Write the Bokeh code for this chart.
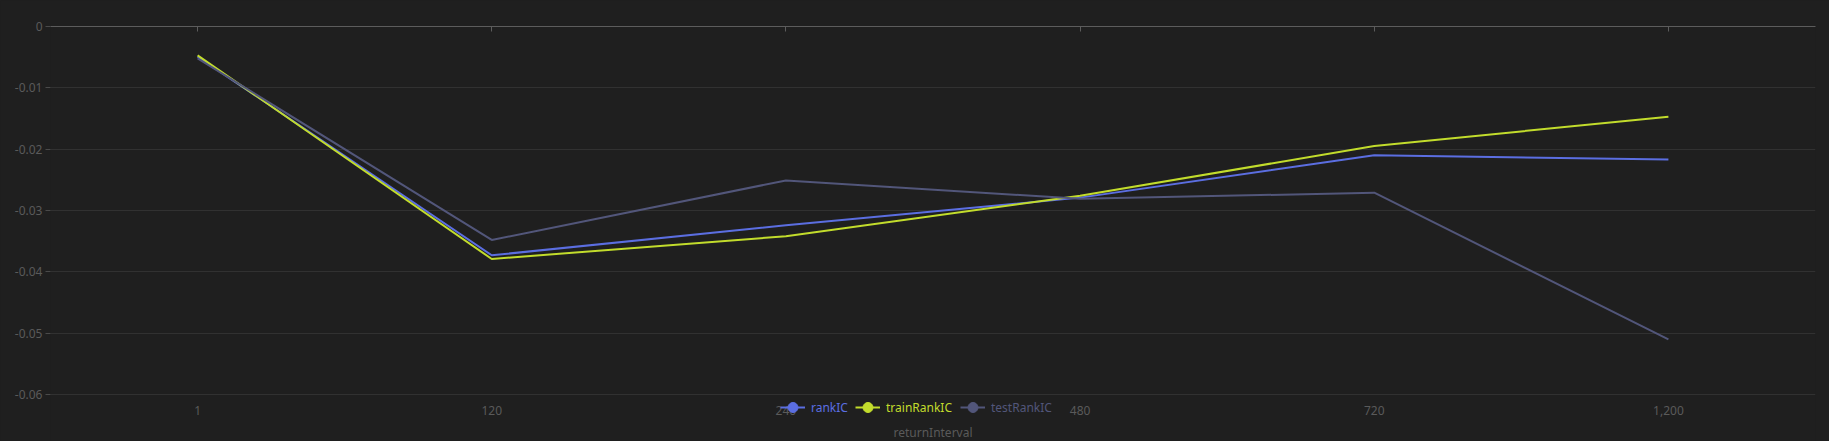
from bokeh.plotting import figure
from bokeh.models import (FactorRange, Range1d, CategoricalAxis, FixedTicker,
                          CustomJSTickFormatter, Legend, LegendItem)
from bokeh.embed import file_html
from bokeh.resources import INLINE

# ---- data ----
categories = ["1", "120", "240", "480", "720", "1,200"]
rank_ic = [-0.0049, -0.0373, -0.0324, -0.0279, -0.0210, -0.0217]
train_rank_ic = [-0.0047, -0.0379, -0.0342, -0.0276, -0.0195, -0.0147]
test_rank_ic = [-0.0052, -0.0348, -0.0251, -0.0281, -0.0271, -0.0510]
y_ticks = [0, -0.01, -0.02, -0.03, -0.04, -0.05, -0.06]
series_names = ["rankIC", "trainRankIC", "testRankIC"]

# ---- style ----
BG = "#1f1f1f"
GRID = "#313131"
AXIS = "#5c5c5c"
TEXT = "#5a5a5a"
FONT = "Noto Sans"
COLORS = ["#5b6ee1", "#c2dc2c", "#52567a"]

# frame runs from the zero line down to the page bottom; the value axis
# ends at -0.06 and the category labels sit below it inside the frame
Y_AXIS_MIN = -0.06
FRAME_BOTTOM = -0.06766

p = figure(width=1829, height=441,
           x_range=FactorRange(*categories, range_padding=0),
           y_range=Range1d(FRAME_BOTTOM, 0),
           output_backend="svg", toolbar_location=None,
           min_border_left=50, min_border_right=14,
           min_border_top=26, min_border_bottom=0,
           background_fill_color=BG, border_fill_color=BG,
           outline_line_color=None)

# grid
p.xgrid.grid_line_color = None
p.ygrid.grid_line_color = GRID
p.ygrid.grid_line_width = 1

# y axis
p.yaxis.ticker = FixedTicker(ticks=y_ticks)
p.yaxis.formatter = CustomJSTickFormatter(
    code="return Math.abs(tick) < 1e-9 ? '0' : tick.toFixed(2);")
p.yaxis.axis_line_color = None
p.yaxis.minor_tick_line_color = None
p.yaxis.major_tick_out = 5
p.yaxis.major_tick_in = 0
p.yaxis.major_tick_line_color = "#4a4a4a"
p.yaxis.major_label_standoff = 3
p.yaxis.major_label_text_font = FONT
p.yaxis.major_label_text_font_size = "12px"
p.yaxis.major_label_text_color = TEXT

# bottom x axis (labels + title only), pinned at the -0.06 line
p.xaxis.fixed_location = Y_AXIS_MIN
p.xaxis.axis_line_color = None
p.xaxis.major_tick_line_color = None
p.xaxis.major_label_standoff = 5
p.xaxis.major_label_text_font = FONT
p.xaxis.major_label_text_font_size = "12px"
p.xaxis.major_label_text_color = TEXT
p.xaxis.axis_label = "returnInterval"
p.xaxis.axis_label_standoff = 6
p.xaxis.axis_label_text_font = FONT
p.xaxis.axis_label_text_font_size = "12px"
p.xaxis.axis_label_text_font_style = "normal"
p.xaxis.axis_label_text_color = TEXT

# top axis line at zero with inward ticks (no labels)
top = CategoricalAxis(axis_line_color=AXIS, major_tick_line_color=AXIS,
                      major_tick_in=5, major_tick_out=0,
                      major_label_text_color=None, major_label_standoff=0)
p.add_layout(top, "above")

# series
values = [rank_ic, train_rank_ic, test_rank_ic]
legend_x = [730, 805, 910]
for name, vals, col, lx in zip(series_names, values, COLORS, legend_x):
    ln = p.line(x=categories, y=vals, line_color=col, line_width=2)
    dot = p.scatter(x=[categories[0]], y=[float("nan")], size=10,
                    fill_color=col, line_color=col, marker="circle")
    leg = Legend(items=[LegendItem(label=name, renderers=[ln, dot])],
                 location=(lx, 21), orientation="horizontal",
                 glyph_width=25, glyph_height=26, label_standoff=6,
                 padding=0, margin=0, spacing=0,
                 border_line_color=None, background_fill_alpha=0,
                 label_text_font=FONT, label_text_font_size="12px",
                 label_text_color=col)
    p.add_layout(leg, "center")

html = file_html(p, INLINE)
html = html.replace("<head>", "<head><style>html,body{margin:0;padding:0;background:#1f1f1f;}</style>", 1)
open("out.html", "w").write(html)
